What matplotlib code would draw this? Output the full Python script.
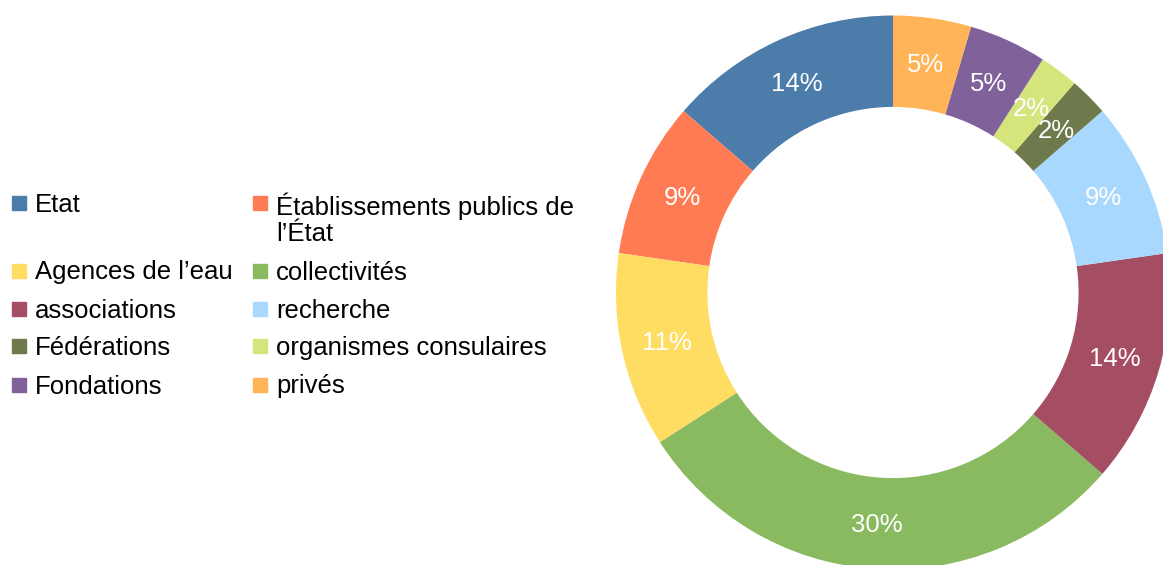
import matplotlib.pyplot as plt
from matplotlib.patches import Rectangle

plt.rcParams['font.family'] = ['Liberation Sans', 'DejaVu Sans']

labels = ['Etat', 'Établissements publics de\nl’État', 'Agences de l’eau', 'collectivités',
          'associations', 'recherche', 'Fédérations', 'organismes consulaires',
          'Fondations', 'privés']
counts = [6, 4, 5, 13, 6, 4, 1, 1, 2, 2]
colors = ['#4c7ca9', '#ff7b54', '#ffdc62', '#8aba5f', '#a54d63',
          '#a9d8ff', '#6e7a4c', '#d5e57b', '#806199', '#ffb457']

W, H = 1163, 565
fig = plt.figure(figsize=(W / 100, H / 100), dpi=100)

# donut: centre (893, 292.5) px, outer radius 277 px
cx, cy, R = 893, 292.5, 277
ax = fig.add_axes([(cx - R) / W, (H - cy - R) / H, 2 * R / W, 2 * R / H])
wedges, _, autotexts = ax.pie(counts, colors=colors, startangle=90, counterclock=True,
                              autopct='%.0f%%', pctdistance=0.834,
                              wedgeprops=dict(width=0.33, linewidth=0),
                              textprops=dict(color='white', fontsize=18.5))
for t in autotexts:
    x, y = t.get_position()
    t.set_position((x, y - 0.006))
ax.set_xlim(-1, 1)
ax.set_ylim(-1, 1)
ax.axis('off')

# legend, two columns filled row by row
row_y = [203, 270.5, 308.5, 346, 384.5]
col_x = [12, 253]
fs = 18.5
line_px = 29.5
for i, (lab, col) in enumerate(zip(labels, colors)):
    r, c = divmod(i, 2)
    x0, y0 = col_x[c], row_y[r]
    fig.patches.append(Rectangle((x0 / W, 1 - (y0 + 7) / H), 14 / W, 14 / H,
                                 transform=fig.transFigure, color=col))
    base = y0 + 9 + line_px * lab.count('\n')
    fig.text((x0 + 23) / W, 1 - base / H, lab, fontsize=fs,
             va='baseline', ha='left', color='black',
             linespacing=line_px / (fs * 100 / 72))

fig.savefig('out.png', dpi=100)
